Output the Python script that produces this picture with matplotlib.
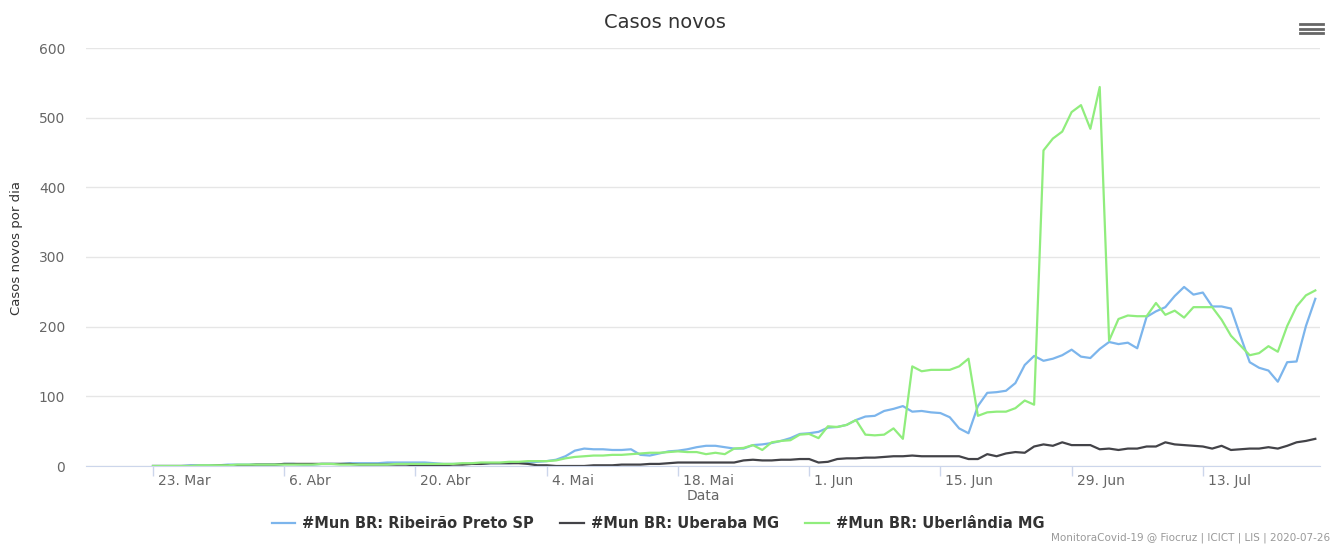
import matplotlib
matplotlib.use("Agg")
import matplotlib.pyplot as plt
import matplotlib.transforms as mtransforms
from matplotlib.lines import Line2D
import pandas as pd

# ---------- dados (casos novos por dia, 23 Mar - 25 Jul 2020) ----------
start_date = "2020-03-23"

ribeirao = [
    0, 0, 0, 0, 1, 1, 1, 1, 2, 2,
    2, 2, 2, 2, 3, 3, 2, 2, 3, 3,
    3, 4, 4, 4, 4, 5, 5, 5, 5, 5,
    4, 3, 3, 3, 3, 3, 4, 4, 4, 5,
    5, 6, 7, 9, 14, 22, 25, 24, 24, 23,
    23, 24, 16, 15, 18, 21, 22, 24, 27, 29,
    29, 27, 25, 25, 30, 31, 33, 36, 40, 46,
    47, 49, 55, 56, 59, 66, 71, 72, 79, 82,
    86, 78, 79, 77, 76, 70, 54, 47, 86, 105,
    106, 108, 119, 145, 158, 151, 154, 159, 167, 157,
    155, 168, 178, 175, 177, 169, 214, 222, 228, 244,
    257, 246, 249, 229, 229, 226, 187, 149, 141, 137,
    121, 149, 150, 201, 240,
]
uberaba = [
    0, 0, 0, 0, 0, 0, 0, 1, 1, 1,
    1, 2, 2, 2, 3, 3, 3, 3, 3, 3,
    3, 3, 2, 2, 2, 2, 2, 2, 1, 1,
    1, 1, 2, 2, 3, 3, 4, 4, 4, 4,
    3, 1, 1, 0, 0, 0, 0, 1, 1, 1,
    2, 2, 2, 3, 3, 4, 5, 5, 5, 5,
    5, 5, 5, 8, 9, 8, 8, 9, 9, 10,
    10, 5, 6, 10, 11, 11, 12, 12, 13, 14,
    14, 15, 14, 14, 14, 14, 14, 10, 10, 17,
    14, 18, 20, 19, 28, 31, 29, 34, 30, 30,
    30, 24, 25, 23, 25, 25, 28, 28, 34, 31,
    30, 29, 28, 25, 29, 23, 24, 25, 25, 27,
    25, 29, 34, 36, 39,
]
uberlandia = [
    0, 0, 0, 0, 0, 1, 1, 1, 1, 2,
    2, 2, 2, 2, 2, 2, 2, 2, 3, 3,
    2, 2, 2, 2, 2, 2, 3, 3, 3, 3,
    3, 3, 3, 4, 4, 5, 5, 5, 6, 6,
    7, 7, 7, 8, 11, 13, 14, 15, 15, 16,
    16, 17, 18, 19, 19, 20, 21, 20, 20, 17,
    19, 17, 25, 26, 30, 23, 34, 36, 37, 45,
    46, 40, 57, 56, 59, 66, 45, 44, 45, 54,
    39, 143, 136, 138, 138, 138, 143, 154, 72, 77,
    78, 78, 83, 94, 88, 453, 470, 480, 508, 518,
    484, 544, 180, 211, 216, 215, 215, 234, 217, 223,
    213, 228, 228, 228, 210, 187, 173, 159, 162, 172,
    164, 201, 229, 245, 252,
]

series_names = ["#Mun BR: Ribeirão Preto SP", "#Mun BR: Uberaba MG", "#Mun BR: Uberlândia MG"]
series_colors = ["#7cb5ec", "#434348", "#90ed7d"]
tick_dates = ["2020-03-23", "2020-04-06", "2020-04-20", "2020-05-04", "2020-05-18",
              "2020-06-01", "2020-06-15", "2020-06-29", "2020-07-13"]
tick_labels = ["23. Mar", "6. Abr", "20. Abr", "4. Mai", "18. Mai",
               "1. Jun", "15. Jun", "29. Jun", "13. Jul"]
y_ticks = [0, 100, 200, 300, 400, 500, 600]

GRID = "#e6e6e6"; AXIS = "#ccd6eb"; LABEL = "#666666"; INK = "#333333"

W, H = 1338, 545
fig = plt.figure(figsize=(W / 100, H / 100), dpi=100)
ax = fig.add_axes([86 / W, 1 - 466 / H, (1320 - 86) / W, (466 - 48) / H])

dates = pd.date_range(start_date, periods=len(ribeirao), freq="D")
for vals, name, col in zip([ribeirao, uberaba, uberlandia], series_names, series_colors):
    ax.plot(dates, vals, color=col, lw=1.6, label=name, solid_joinstyle="round")

# eixos
ax.set_ylim(0, 600)
ax.set_yticks(y_ticks)
ax.set_xlim(dates[0] - pd.Timedelta(days=7.15), dates[-1] + pd.Timedelta(days=0.5))
ax.set_xticks(pd.to_datetime(tick_dates))
ax.set_xticklabels(tick_labels)
ax.grid(axis="y", color=GRID, lw=1)
ax.set_axisbelow(True)
for s in ("top", "right", "left"):
    ax.spines[s].set_visible(False)
ax.spines["bottom"].set_color(AXIS)
ax.tick_params(axis="y", length=0, pad=15, labelsize=10, labelcolor=LABEL)
ax.tick_params(axis="x", length=7.5, width=1, color=AXIS, pad=-2, labelsize=10, labelcolor=LABEL)
shift = mtransforms.ScaledTranslation(5 / 100, 0, fig.dpi_scale_trans)
for lab in ax.get_xticklabels():
    lab.set_horizontalalignment("left")
    lab.set_transform(lab.get_transform() + shift)

# textos
fig.text(665 / W, 1 - 22 / H, "Casos novos", ha="center", va="center", fontsize=14, color=INK)
fig.text(703 / W, 1 - 496 / H, "Data", ha="center", va="center", fontsize=10, color=LABEL)
fig.text(17 / W, 1 - 248 / H, "Casos novos por dia", ha="center", va="center", rotation=90,
         fontsize=9.5, color=INK, family=["Liberation Sans Narrow", "DejaVu Sans"])
fig.text(1330 / W, 1 - 538 / H, "MonitoraCovid-19 @ Fiocruz | ICICT | LIS | 2020-07-26",
         ha="right", va="center", fontsize=7.5, color="#999999")

# menu (hamburger)
for yy in (24, 28.5, 33):
    fig.add_artist(Line2D([1300 / W, 1323 / W], [1 - yy / H, 1 - yy / H],
                          transform=fig.transFigure, color="#666666", lw=2))

# legenda
handles = [Line2D([], [], color=c, lw=1.6) for c in series_colors]
fig.legend(handles, series_names, loc="center", bbox_to_anchor=(658 / W, 1 - 524 / H),
           ncol=3, frameon=False, handlelength=1.6, handletextpad=0.5, columnspacing=1.8,
           prop={"weight": "bold", "size": 10.5}, labelcolor=INK)

fig.savefig("out.png", dpi=100, facecolor="white")
